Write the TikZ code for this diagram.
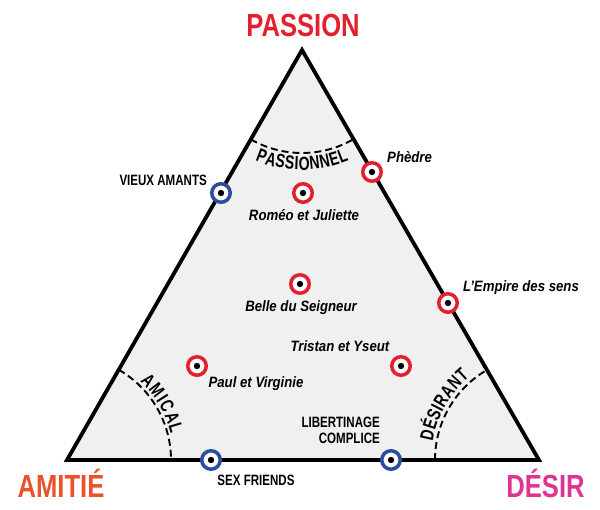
\documentclass[tikz,border=0pt]{standalone}
\usepackage{fontspec}
\usetikzlibrary{calc,decorations.text}
\newfontfamily\titlefont[FakeStretch=0.8]{Liberation Sans}
\newfontfamily\condfont[FakeStretch=0.77]{Liberation Sans}
\newfontfamily\curvefamily[FakeStretch=0.74]{Liberation Sans}
\newfontfamily\obliquefont[FakeStretch=0.88]{Liberation Sans}
\newcommand\curvefont{\curvefamily\bfseries\fontsize{19}{19}\selectfont}
\definecolor{pred}{HTML}{E3202D}
\definecolor{pblue}{HTML}{2A4D9C}
\definecolor{porange}{HTML}{E8532C}
\definecolor{ppink}{HTML}{DD3590}
\definecolor{fillgray}{HTML}{EFF0EF}
\tikzset{
  edge/.style={line width=3.8pt, line join=miter, black},
  dasharc/.style={line width=1.9pt, dash pattern=on 7pt off 4pt, black},
  ring/.style={circle, draw=#1, line width=3.5pt, fill=white, minimum size=18.5pt, inner sep=0pt},
  title/.style={font=\titlefont\bfseries\fontsize{32}{32}\selectfont, inner sep=0pt, anchor=base},
  caps/.style={font=\condfont\bfseries\fontsize{15}{16}\selectfont, inner sep=0pt, anchor=base},
  work/.style={font=\obliquefont\bfseries\itshape\fontsize{15}{16}\selectfont, inner sep=0pt, anchor=base},
  curvetext/.style={decorate, decoration={text along path, text={|\curvefont|#1}, text align={fit to path}}}
}
\begin{document}
\begin{tikzpicture}[x=1pt,y=1pt]
\useasboundingbox (0,0) rectangle (600,510);
\coordinate (A) at (302,460);
\coordinate (L) at (67,50);
\coordinate (R) at (539,50);
\fill[fillgray] (A) -- (L) -- (R) -- cycle;
% dashed arcs
\draw[dasharc] ($(A)+(240.2:103)$) arc[start angle=240.2, end angle=299.8, radius=103];
\draw[dasharc] ($(L)+(60.2:104)$) arc[start angle=60.2, end angle=0, radius=104];
\draw[dasharc] ($(R)+(180:104)$) arc[start angle=180, end angle=119.8, radius=104];
% curved labels
\path[curvetext={PASSIONNEL}] ($(A)+(247:120)$) arc[start angle=247, end angle=293, radius=120];
\path[curvetext={AMICAL}] ($(L)+(47:107)$) arc[start angle=47, end angle=14, radius=107];
\path[curvetext={DÉSIRANT}] ($(R)+(170:108)$) arc[start angle=170, end angle=130, radius=108];
% triangle
\draw[edge] (A) -- (L) -- (R) -- cycle;
% titles
\node[title, text=pred] (tp) at (303,473) {PASSION};
\node[title, text=porange] (ta) at (61,12) {AMITIÉ};
\node[title, text=ppink] (td) at (545.5,12) {DÉSIR};
% markers
\node[ring=pblue] (va) at (221,317) {};
\node[ring=pred] (ph) at (372,338) {};
\node[ring=pred] (rj) at (303,317) {};
\node[ring=pred] (bs) at (300,226) {};
\node[ring=pred] (es) at (448,207) {};
\node[ring=pred] (ty) at (401,144) {};
\node[ring=pred] (pv) at (197,144) {};
\node[ring=pblue] (sf) at (211,50) {};
\node[ring=pblue] (lc) at (391,50) {};
\foreach \m in {va,ph,rj,bs,es,ty,pv,sf,lc}{\fill[black] (\m) circle[radius=3.2];}
% labels
\node[caps, anchor=base east] (lva) at (207,324) {VIEUX AMANTS};
\node[work, anchor=base west] (lph) at (387,347) {Phèdre};
\node[work] (lrj) at (304,289) {Roméo et Juliette};
\node[work] (lbs) at (301,198) {Belle du Seigneur};
\node[work, anchor=base west] (les) at (463,218) {L’Empire des sens};
\node[work] (lty) at (340,158) {Tristan et Yseut};
\node[work] (lpv) at (256,122) {Paul et Virginie};
\node[caps, anchor=east, align=right] (llc) at (380,79.5) {LIBERTINAGE\\COMPLICE};
\node[caps] (lsf) at (256,24) {SEX FRIENDS};
\end{tikzpicture}
\end{document}
